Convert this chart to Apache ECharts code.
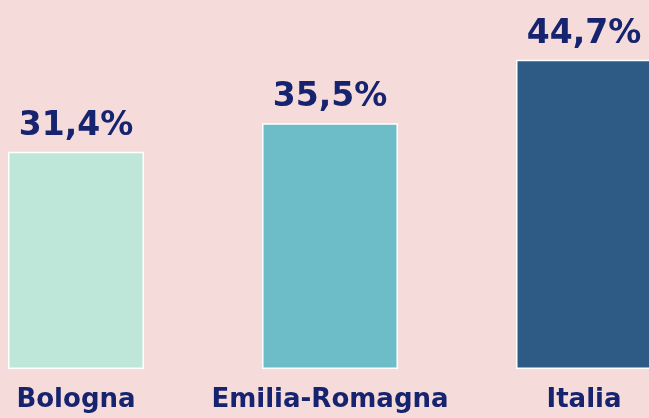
<!DOCTYPE html>
<html><head><meta charset="utf-8">
<script src="https://cdn.jsdelivr.net/npm/echarts@6/dist/echarts.min.js"></script>
<style>html,body{margin:0;padding:0;background:#f6dbdb;overflow:hidden;width:649px;height:418px;position:relative;}
#c{position:absolute;left:-51px;top:0;width:762px;height:418px;}</style>
</head><body><div id="c"></div>
<script>
const categories = ["Bologna", "Emilia-Romagna", "Italia"];
const values = [31.4, 35.5, 44.7];
const barColors = ["#bfe7d9", "#6dbdc9", "#2e5a86"];

const chart = echarts.init(document.getElementById('c'), null, {renderer: 'canvas'});
chart.setOption({
  backgroundColor: '#f6dbdb',
  animation: false,
  grid: {left: 0, right: 0, top: 23, bottom: 49, containLabel: false},
  xAxis: {
    type: 'category', data: categories,
    axisLine: {show: false}, axisTick: {show: false},
    axisLabel: {
      interval: 0, margin: 18, color: '#16236f', fontWeight: 'bold', fontSize: 26,
      fontFamily: '"DejaVu Sans", sans-serif'
    }
  },
  yAxis: {
    type: 'value', min: 0, max: 50, show: false,
    splitLine: {show: false}
  },
  series: [{
    type: 'bar', barWidth: 136,
    data: values.map((v, i) => ({value: v, itemStyle: {color: barColors[i]}})),
    itemStyle: {borderColor: '#ffffff', borderWidth: 1.5},
    label: {
      show: true, position: 'top', distance: 9,
      color: '#16236f', fontWeight: 'bold', fontSize: 33,
      fontFamily: '"DejaVu Sans", sans-serif',
      formatter: p => p.value.toFixed(1).replace('.', ',') + '%'
    }
  }]
});
</script></body></html>
